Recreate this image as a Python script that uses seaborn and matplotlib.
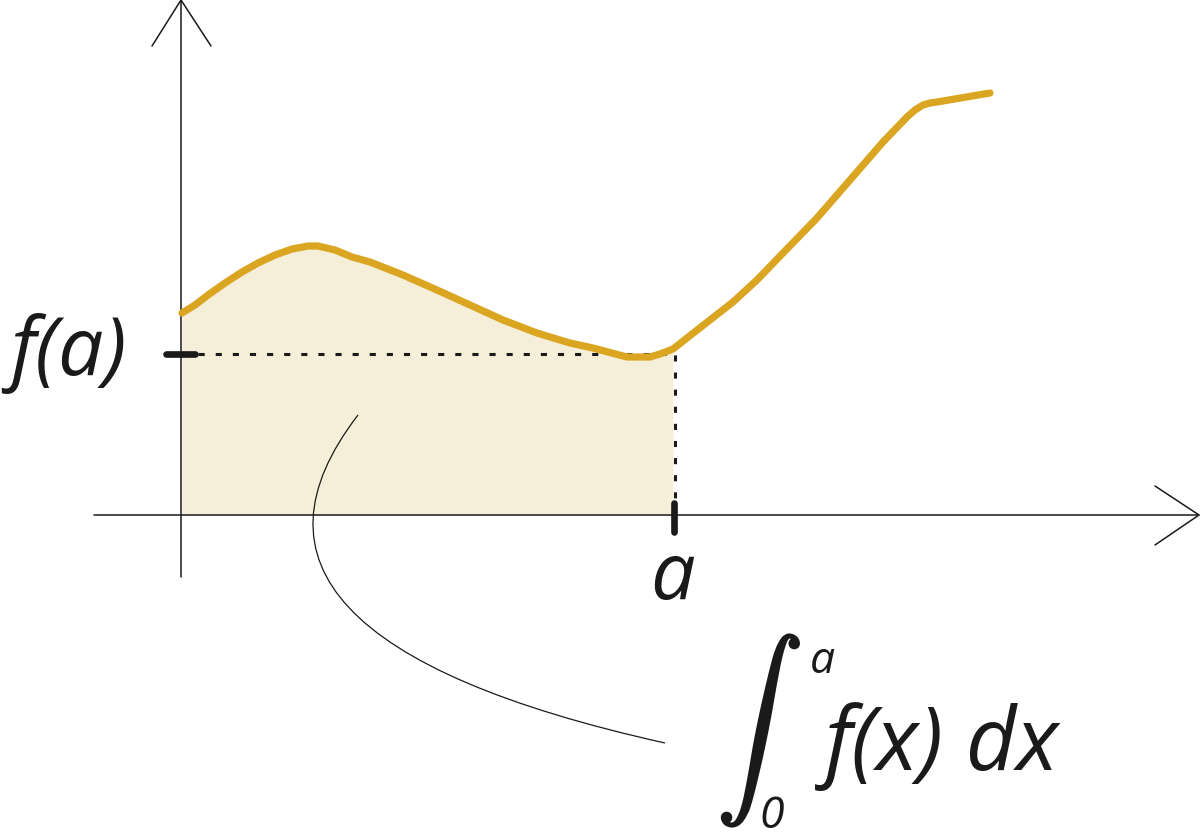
import numpy as np
import pandas as pd
import seaborn as sns
import matplotlib.pyplot as plt
import matplotlib.patheffects as pe
from matplotlib.path import Path
from matplotlib.patches import PathPatch

# ---- data (x to the right of the y axis, y above the x axis) ----
curve_x = [1, 14, 27, 44, 61, 77, 94, 111, 127, 137, 154, 171, 189, 222, 256, 289,
           322, 356, 389, 412, 446, 469, 479, 492, 506, 529, 552, 576, 602, 636, 669,
           702, 726, 734, 742, 749, 756, 809]
curve_y = [202, 210, 220, 232, 243, 252, 260, 266, 269, 269, 265, 258, 253, 240, 225, 210,
           195, 182, 172, 167, 158, 158, 161, 166, 177, 195, 213, 235, 262, 297, 335,
           373, 398, 405, 410, 412, 413, 422]
a_value = 492
fa_value = 161
labels = {"fa": "f(a)", "a": "a", "integrand": "f(x) dx", "upper": "a", "lower": "0",
          "int": r"$\int$"}

# ---- style ----
sns.set_theme(style="white")
plt.rcParams['font.family'] = ['Open Sans', 'DejaVu Sans']

CURVE = '#daa520'
FILL = '#f5eed8'

fig = plt.figure(figsize=(12, 8.35), dpi=100)
ax = fig.add_axes([0, 0, 1, 1])
ax.set_xlim(-181, 1019)
ax.set_ylim(-320, 515)
ax.axis('off')

df = pd.DataFrame({'x': curve_x, 'y': curve_y})

# shaded area under curve from 0 to a
sub = df[df.x <= a_value]
ax.fill_between(sub.x, 0, sub.y, color=FILL, lw=0, zorder=1)

# axes with arrows
ax_lw = 1.1
ax.plot([0, 0], [-62, 515], color='k', lw=ax_lw, zorder=2)
ax.plot([-29, 0, 30], [469, 515, 469], color='k', lw=ax_lw, zorder=2)
ax.plot([-87, 1018], [0, 0], color='k', lw=ax_lw, zorder=2)
ax.plot([974, 1018, 974], [29, 0, -30], color='k', lw=ax_lw, zorder=2)

# dotted guide lines
ax.plot([0, a_value + 2], [fa_value, fa_value], color='k', lw=2.2,
        ls=(0, (2.0, 3.6)), zorder=3)
ax.plot([a_value + 2, a_value + 2], [0, fa_value], color='k', lw=2.2,
        ls=(0, (2.0, 3.6)), zorder=3)

# curve
sns.lineplot(data=df, x='x', y='y', color=CURVE, linewidth=5.2, ax=ax,
             sort=False, zorder=4, solid_capstyle='round', solid_joinstyle='round')

# ticks
ax.plot([-15, 14], [fa_value, fa_value], color='k', lw=4.8,
        solid_capstyle='round', zorder=5)
ax.plot([a_value + 1, a_value + 1], [-17, 12], color='k', lw=4.8,
        solid_capstyle='round', zorder=5)

# labels
tkw = dict(style='italic', color='k')
ax.text(-113, fa_value, labels["fa"], fontsize=58, ha='center', va='center', **tkw)
ax.text(a_value, -63, labels["a"], fontsize=57, ha='center', va='center', **tkw)

# integral expression
ax.text(578, -216, labels["int"], fontsize=62, ha='center', va='center',
        math_fontfamily='cm', color='k',
        path_effects=[pe.withStroke(linewidth=2.0, foreground='k')])
ax.text(641, -147, labels["upper"], fontsize=32, ha='center', va='center', **tkw)
ax.text(591, -302, labels["lower"], fontsize=32, ha='center', va='center', **tkw)
ax.text(644, -255, labels["integrand"], fontsize=63, ha='left', va='baseline', **tkw)

# leader curve
path = Path([(177, 100), (6, -122), (484, -228)], [Path.MOVETO, Path.CURVE3, Path.CURVE3])
ax.add_patch(PathPatch(path, fc='none', ec='k', lw=0.9, zorder=2))

fig.savefig('out.png', dpi=100)
